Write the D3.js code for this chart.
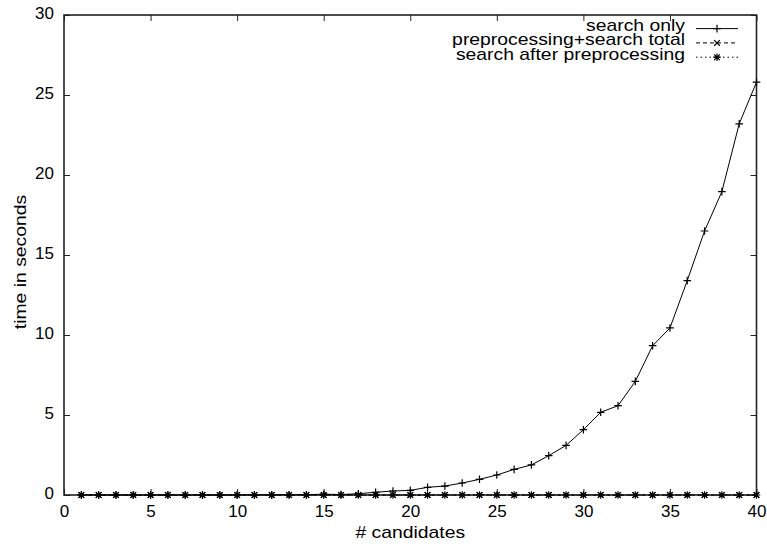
<!DOCTYPE html>
<html>
<head>
<meta charset="utf-8">
<script src="https://cdn.jsdelivr.net/npm/d3@7"></script>
<style>
  html, body { margin: 0; padding: 0; background: #fff; }
  svg { display: block; }
  text { font-family: "Liberation Sans", Arial, Helvetica, sans-serif; fill: #000; }
</style>
</head>
<body>
<svg id="chart" width="767" height="546"></svg>
<script>
// Number of candidates on the x axis
const candidates = d3.range(1, 41);

// Running time (seconds) for each strategy
const searchOnly = [
  0, 0, 0, 0, 0, 0, 0, 0, 0, 0,
  0.01, 0.01, 0.02, 0.02, 0.05, 0.03, 0.08, 0.17, 0.25, 0.29,
  0.48, 0.56, 0.75, 0.98, 1.25, 1.6, 1.88, 2.46, 3.1, 4.08,
  5.17, 5.58, 7.1, 9.33, 10.44, 13.4, 16.5, 18.96, 23.2, 25.8
];
const preprocessingTotal = [
  0, 0, 0, 0, 0, 0, 0, 0, 0, 0,
  0, 0, 0, 0, 0, 0, 0, 0, 0, 0,
  0, 0, 0, 0, 0, 0, 0, 0, 0, 0,
  0, 0, 0, 0, 0, 0, 0, 0, 0, 0
];
const searchAfterPreprocessing = [
  0, 0, 0, 0, 0, 0, 0, 0, 0, 0,
  0, 0, 0, 0, 0, 0, 0, 0, 0, 0,
  0, 0, 0, 0, 0, 0, 0, 0, 0, 0,
  0, 0, 0, 0, 0, 0, 0, 0, 0, 0
];

const seriesNames = ["search only", "preprocessing+search total", "search after preprocessing"];
const xTicks = [0, 5, 10, 15, 20, 25, 30, 35, 40];
const yTicks = [0, 5, 10, 15, 20, 25, 30];

const svg = d3.select("#chart");
const plotLeft = 64, plotRight = 756.5, plotTop = 15, plotBottom = 495;

const x = d3.scaleLinear().domain([0, 40]).range([plotLeft, plotRight]);
const y = d3.scaleLinear().domain([0, 30]).range([plotBottom, plotTop]);

const axisColor = "#222";
const tickFont = "17px";
const labelFont = "16px";
const wide = 1.21; // horizontal stretch of the word labels

// Axes with inward ticks, mirrored on top and right
const tickLen = 6;
const gAx = svg.append("g");
const xAxisB = d3.axisBottom(x).tickValues(xTicks).tickSize(-tickLen).tickPadding(10);
const xAxisT = d3.axisTop(x).tickValues(xTicks).tickSize(-tickLen).tickFormat("");
const yAxisL = d3.axisLeft(y).tickValues(yTicks).tickSize(-tickLen).tickPadding(10);
const yAxisR = d3.axisRight(y).tickValues(yTicks).tickSize(-tickLen).tickFormat("");

function styleAxis(g) {
  g.select(".domain").remove();
  g.selectAll(".tick line").attr("stroke", axisColor).attr("stroke-width", 1);
  g.selectAll(".tick text").style("font-size", tickFont).attr("fill", "#000");
}
gAx.append("g").attr("transform", `translate(0,${plotBottom})`).call(xAxisB).call(styleAxis);
gAx.append("g").attr("transform", `translate(0,${plotTop})`).call(xAxisT).call(styleAxis);
gAx.append("g").attr("transform", `translate(${plotLeft},0)`).call(yAxisL).call(styleAxis)
  .selectAll(".tick text").attr("dy", "0.22em");
gAx.append("g").attr("transform", `translate(${plotRight},0)`).call(yAxisR).call(styleAxis);

// Plot frame
svg.append("rect")
  .attr("x", plotLeft).attr("y", plotTop)
  .attr("width", plotRight - plotLeft).attr("height", plotBottom - plotTop)
  .attr("fill", "none").attr("stroke", axisColor).attr("stroke-width", 1.6);

// Axis titles
svg.append("text")
  .attr("transform", `translate(${(plotLeft + plotRight) / 2},538) scale(${wide},1)`)
  .attr("text-anchor", "middle").style("font-size", labelFont)
  .text("# candidates");
svg.append("text")
  .attr("transform", `translate(26,262) rotate(-90) scale(${wide},1)`)
  .attr("text-anchor", "middle").style("font-size", labelFont)
  .text("time in seconds");

// Point symbols
const ms = 3.8;
function plusPath(cx, cy) {
  return `M${cx - ms},${cy}H${cx + ms}M${cx},${cy - ms}V${cy + ms}`;
}
function crossPath(cx, cy) {
  const r = ms * 0.75;
  return `M${cx - r},${cy - r}L${cx + r},${cy + r}M${cx - r},${cy + r}L${cx + r},${cy - r}`;
}
function starPath(cx, cy) {
  return plusPath(cx, cy) + crossPath(cx, cy);
}

const series = [
  { name: seriesNames[0], values: searchOnly, dash: null, symbol: plusPath },
  { name: seriesNames[1], values: preprocessingTotal, dash: "4,3", symbol: crossPath },
  { name: seriesNames[2], values: searchAfterPreprocessing, dash: "1.5,3", symbol: starPath }
];

const line = d3.line().x(d => x(d[0])).y(d => y(d[1]));

series.forEach(s => {
  const pts = candidates.map((c, i) => [c, s.values[i]]);
  svg.append("path")
    .attr("d", line(pts))
    .attr("fill", "none").attr("stroke", "#000").attr("stroke-width", 1)
    .attr("stroke-dasharray", s.dash);
  svg.append("path")
    .attr("d", pts.map(p => s.symbol(x(p[0]), y(p[1]))).join(""))
    .attr("fill", "none").attr("stroke", "#000").attr("stroke-width", 1.2);
});

// Legend
const legTextX = 685, legX1 = 696, legX2 = 738, legY0 = 28.6, legDy = 14.3;
series.forEach((s, i) => {
  const ly = legY0 + i * legDy;
  svg.append("text")
    .attr("transform", `translate(${legTextX},${ly + 2.3}) scale(${wide},1)`)
    .attr("text-anchor", "end").style("font-size", labelFont)
    .text(s.name);
  svg.append("line")
    .attr("x1", legX1).attr("x2", legX2).attr("y1", ly).attr("y2", ly)
    .attr("stroke", "#000").attr("stroke-width", 1)
    .attr("stroke-dasharray", s.dash);
  svg.append("path")
    .attr("d", s.symbol((legX1 + legX2) / 2, ly))
    .attr("fill", "none").attr("stroke", "#000").attr("stroke-width", 1.2);
});
</script>
</body>
</html>
